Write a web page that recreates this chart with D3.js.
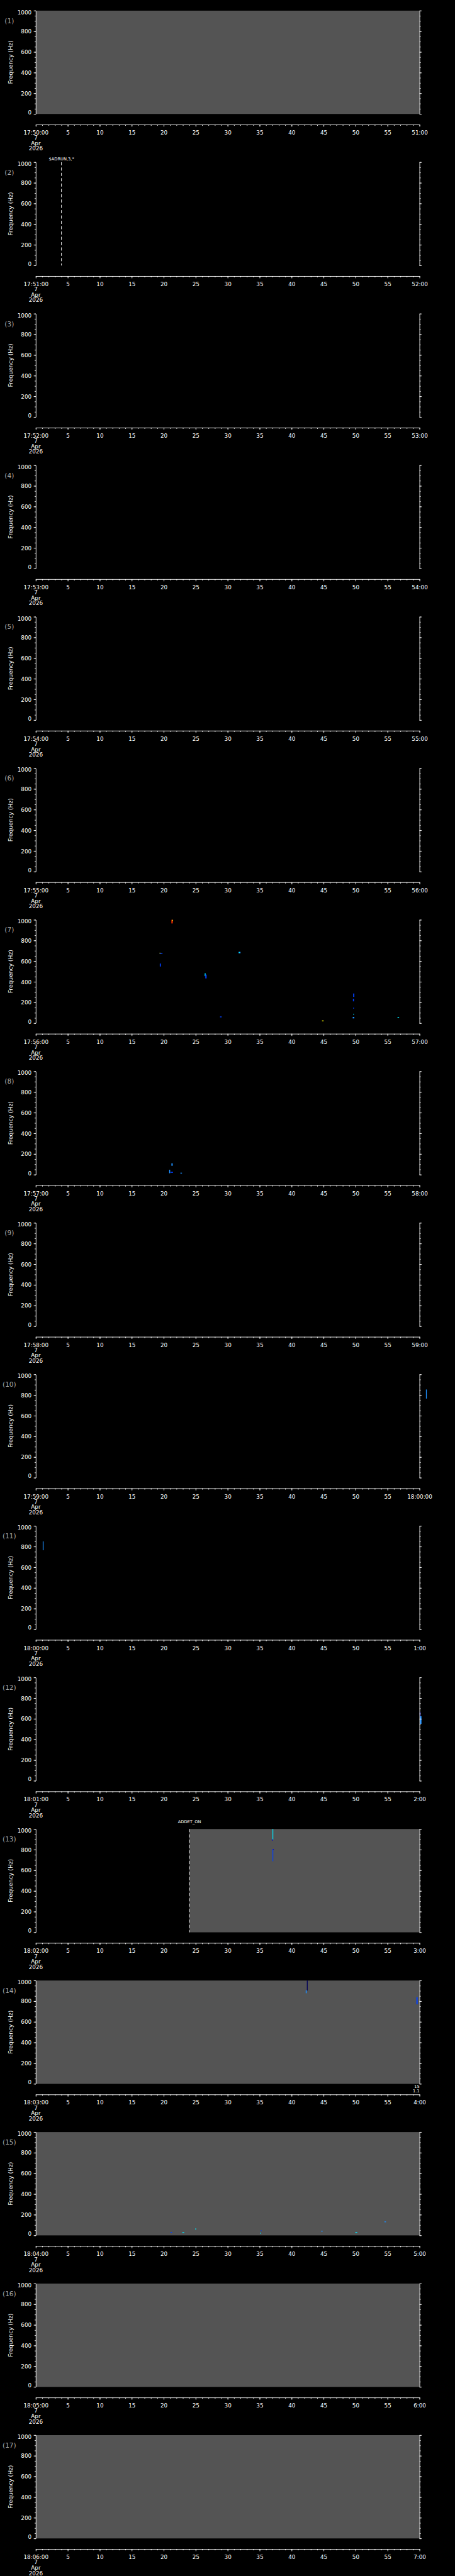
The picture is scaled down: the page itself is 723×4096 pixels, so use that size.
<!DOCTYPE html>
<html><head><meta charset="utf-8">
<script src="https://cdn.jsdelivr.net/npm/d3@7"></script>
<style>html,body{margin:0;padding:0;background:#000;}svg{display:block}</style>
</head><body>
<script>
// ---------------- data ----------------
const panelStartTimes = ["17:50:00","17:51:00","17:52:00","17:53:00","17:54:00","17:55:00","17:56:00",
  "17:57:00","17:58:00","17:59:00","18:00:00","18:01:00","18:02:00","18:03:00","18:04:00","18:05:00","18:06:00"];
const panelDate = "2026-04-07";
const dateLines = ["7", "Apr", "2026"];
// second at which data coverage (grey fill) begins in each panel; null = no data
const coverageStart = [0, null, null, null, null, null, null, null, null, null, null, null, 24.03, 0, 0, 0, 0];
const freqDomain = [0, 1000];
const freqMajorTicks = [0, 200, 400, 600, 800, 1000];
const freqMinorStep = 50;
const yTitle = "Frequency (Hz)";

const eventPanel = [2, 13];
const eventSecond = [4.0, 24.03];
const eventText = ["$ADRUN,3,*", "ADDET_ON"];

const notePanel = 14;
const noteLines = ["15", "1.1"];

// spectrogram marks: panel, start s, end s, low Hz, high Hz, intensity level
const markPanel = [7,7,7,7,7,7,7,7,7,7,7,7,7,7,7,7,7, 8,8,8,8, 10, 11, 12,12, 13,13,13,13, 14,14,14, 15,15,15,15,15,15,15,15];
const markT0 = [21.2,21.3,19.35,19.35,19.38,26.4,26.5,28.8,31.7,31.75,44.75,49.62,49.58,49.6,49.6,49.55,56.55,
  21.2,20.85,21.05,22.6, 61.0, 1.08, 60.02,60.05, 37.0,36.9,37.0,37.05, 42.38,42.2,59.5,
  21.05,22.9,24.9,35.15,35.05,44.6,49.95,54.5];
const markT1 = [21.4,21.42,19.8,19.45,19.55,26.55,26.7,29.05,32.0,31.9,45.0,49.8,49.75,49.75,49.75,49.8,56.8,
  21.4,21.0,21.45,22.85, 61.12, 1.2, 60.15,60.3, 37.12,37.05,37.12,37.2, 42.45,42.35,59.7,
  21.3,23.2,25.1,35.3,35.2,44.85,50.25,54.75];
const markF0 = [965,988,672,676,548,455,433,56,676,681,22,254,211,143,86,46,53,
  86,14,18,15, 766, 765, 625,550, 898,888,688,799, 903,877,770,
  27,24,60,45,21,41,28,131];
const markF1 = [1000,1000,681,682,577,483,470,65,690,688,26,287,236,149,91,60,60,
  110,48,28,19, 854, 851, 667,625, 1000,900,805,805, 1000,906,840,
  32,31,66,49,25,45,32,135];
const markLevel = [6,5,2,5,2,4,2,2,3,4,5,2,2,2,4,3,4,
  3,3,2,3, 3, 3, 1,3, 4,1,2,1, 0,3,2,
  2,4,4,2,4,3,4,3];
const levelColors = ["#00005a","#0000c8","#0040ff","#1e90ff","#00e8ff","#ffff00","#ff2a00"];

// ---------------- layout (reference units) ----------------
const W = 1024, H = 5802, N = panelStartTimes.length;
const panelH = H / N;
const topOff = 24, plotH = 232.7, x0 = 80.6, x1 = 944.3;
const axisOff = 256.7;
const FONT = "DejaVu Sans";

const svg = d3.select("body").append("svg")
  .attr("width", 723).attr("height", 4096)
  .attr("viewBox", `0 0 ${W} ${H}`)
  .style("background", "#000");

const color = d3.scaleOrdinal().domain(d3.range(levelColors.length)).range(levelColors);
const parse = d3.utcParse("%Y-%m-%d %H:%M:%S");

panelStartTimes.forEach((st, i) => {
  const pIdx = i + 1;
  const top = i * panelH + topOff, bottom = top + plotH;
  const t0 = parse(panelDate + " " + st);
  const tEnd = new Date(t0.getTime() + 60000);
  const x = d3.scaleUtc().domain([t0, tEnd]).range([x0, x1]);
  const y = d3.scaleLinear().domain(freqDomain).range([bottom, top]);
  const g = svg.append("g");
  const sec = s => new Date(t0.getTime() + s * 1000);

  // coverage fill
  if (coverageStart[i] !== null) {
    g.append("rect").attr("x", x(sec(coverageStart[i]))).attr("y", top)
      .attr("width", x(tEnd) - x(sec(coverageStart[i]))).attr("height", plotH)
      .attr("fill", "#545454");
  }

  // marks
  markPanel.forEach((p, k) => {
    if (p !== pIdx) return;
    const xa = x(sec(markT0[k])), xb = x(sec(markT1[k]));
    const ya = y(markF1[k]), yb = y(markF0[k]);
    g.append("rect").attr("x", xa).attr("y", ya)
      .attr("width", Math.max(xb - xa, 1.8)).attr("height", Math.max(yb - ya, 1.8))
      .attr("fill", color(markLevel[k]));
  });

  // events
  eventPanel.forEach((p, k) => {
    if (p !== pIdx) return;
    const ex = x(sec(eventSecond[k]));
    g.append("line").attr("x1", ex).attr("x2", ex).attr("y1", top).attr("y2", bottom)
      .attr("stroke", "#fff").attr("stroke-width", 1.3).attr("stroke-dasharray", "7,5");
    const lift = k === 0 ? 4 : 13;
    g.append("text").attr("x", ex).attr("y", top - lift).attr("text-anchor", "middle")
      .attr("fill", "#fff").attr("font-family", FONT).attr("font-size", 9.5).text(eventText[k]);
  });

  // note
  if (pIdx === notePanel) {
    noteLines.forEach((s, k) => {
      g.append("text").attr("x", x1).attr("y", top + 242 + k * 10.6).attr("text-anchor", "end")
        .attr("fill", "#fff").attr("font-family", FONT).attr("font-size", 9.5).text(s);
    });
  }

  // y axes
  const minor = d3.range(freqDomain[0], freqDomain[1] + 1, freqMinorStep);
  const styleAxis = sel => {
    sel.selectAll("path,line").attr("stroke", "#fff").attr("stroke-width", 1.3);
    sel.selectAll("text").attr("fill", "#fff").attr("font-family", FONT).attr("font-size", 12.5);
  };
  const yl = g.append("g").attr("transform", `translate(${x0},0)`)
    .call(d3.axisLeft(y).tickValues(minor).tickSize(2.7).tickSizeOuter(0).tickFormat(""));
  styleAxis(yl);
  const ylM = g.append("g").attr("transform", `translate(${x0},0)`)
    .call(d3.axisLeft(y).tickValues(freqMajorTicks).tickSize(4.7).tickSizeOuter(0).tickPadding(5).tickFormat(d3.format("d")));
  styleAxis(ylM);
  ylM.select(".domain").remove();
  ylM.selectAll(".tick text").attr("dy", d => d === freqDomain[1] ? "0.62em" : d === freqDomain[0] ? "0.05em" : "0.35em");
  const yr = g.append("g").attr("transform", `translate(${x1},0)`)
    .call(d3.axisRight(y).tickValues(minor).tickSize(2.7).tickSizeOuter(0).tickFormat(""));
  styleAxis(yr);
  const yrM = g.append("g").attr("transform", `translate(${x1},0)`)
    .call(d3.axisRight(y).tickValues(freqMajorTicks).tickSize(4.7).tickSizeOuter(0).tickFormat(""));
  styleAxis(yrM);
  yrM.select(".domain").remove();

  // y title and panel number
  g.append("text").attr("transform", `translate(28,${top + plotH / 2}) rotate(-90)`)
    .attr("text-anchor", "middle").attr("fill", "#fff").attr("font-family", FONT)
    .attr("font-size", 13).text(yTitle);
  g.append("text").attr("x", 21).attr("y", top + 28).attr("text-anchor", "middle")
    .attr("fill", "#a8a8a8").attr("font-family", FONT).attr("font-size", 15).text(`(${pIdx})`);

  // time axis
  const ay = top + axisOff;
  const xm = g.append("g").attr("transform", `translate(0,${ay})`)
    .call(d3.axisBottom(x).ticks(d3.utcSecond.every(1)).tickSize(2.7).tickSizeOuter(0).tickFormat(""));
  styleAxis(xm);
  const fmtFull = d3.utcFormat("%H:%M:%S");
  const lab = d => {
    const ms = d - t0;
    if (ms === 0) return fmtFull(d);
    if (ms === 60000) return d.getUTCMinutes() === 0 ? fmtFull(d) : `${d.getUTCMinutes()}:${d3.utcFormat("%S")(d)}`;
    return String(d.getUTCSeconds());
  };
  const xM = g.append("g").attr("transform", `translate(0,${ay})`)
    .call(d3.axisBottom(x).ticks(d3.utcSecond.every(5)).tickSize(4.7).tickSizeOuter(0).tickFormat(lab));
  styleAxis(xM);
  xM.select(".domain").remove();
  xM.selectAll(".tick text").attr("y", 22.6).attr("dy", null);
  dateLines.forEach((s, k) => {
    g.append("text").attr("x", x0).attr("y", ay + 34.3 + k * 12.1).attr("text-anchor", "middle")
      .attr("fill", "#fff").attr("font-family", FONT).attr("font-size", 12.5).text(s);
  });
});
</script>
</body></html>
